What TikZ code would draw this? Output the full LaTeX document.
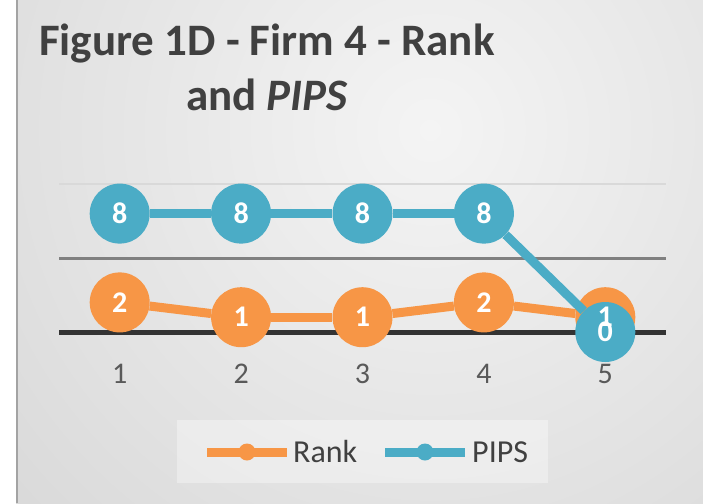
\documentclass[tikz,border=0pt]{standalone}
\usepackage{fontspec}
\setmainfont{Carlito}
\usepackage{tikz}
\usetikzlibrary{positioning}
\definecolor{rankor}{HTML}{F79646}
\definecolor{pipsbl}{HTML}{4BACC6}
\definecolor{titlegr}{HTML}{404040}
\definecolor{axisgr}{HTML}{595959}
\definecolor{bgin}{HTML}{F4F4F4}
\definecolor{bgout}{HTML}{C0C0C0}
\tikzstyle{rankdot} = [circle, fill=rankor, minimum size=60pt, inner sep=0pt]
\tikzstyle{pipsdot} = [circle, fill=pipsbl, minimum size=60pt, inner sep=0pt]
\tikzstyle{rankline} = [draw=rankor, line width=9pt]
\tikzstyle{pipsline} = [draw=pipsbl, line width=9pt]
\tikzstyle{dotlab} = [text=white, inner sep=0pt, font=\bfseries\fontsize{30}{30}\selectfont]
\tikzstyle{ticklab} = [text=axisgr, inner sep=0pt, font=\fontsize{30}{30}\selectfont]
\tikzstyle{titlelab} = [text=titlegr, inner sep=0pt, font=\bfseries\fontsize{45}{54}\selectfont]
\tikzstyle{legendlab} = [text=titlegr, inner sep=0pt, font=\fontsize{32}{32}\selectfont]

\begin{document}
\begin{tikzpicture}[x=1pt, y=-1pt]
\useasboundingbox (0,0) rectangle (703,503);
\fill[white] (0,0) rectangle (703,503);
\begin{scope}
\clip (16,0) rectangle (703,503);
\shade[inner color=bgin, outer color=bgout] (430,130) circle (1100pt);
\end{scope}
\draw[bgout!85!black, line width=2pt] (17,0) -- (17,503);

\node[titlelab, anchor=base] (title) at (267,56) {Figure 1D - Firm 4 - Rank};
\node[titlelab, anchor=base] (subtitle) at (267,110) {and \textit{PIPS}};

\draw[black!15, line width=2pt] (59,184) -- (666,184);
\draw[black!50, line width=3pt] (59,258) -- (666,258);
\draw[black!80, line width=5pt] (59,332) -- (666,332);

\foreach \i/\v in {1/2,2/1,3/1,4/2,5/1}
    \node[rankdot] (r\i) at ({59+121.4*(\i-0.5)}, {332-14.8*\v}) {};
\draw[rankline] (r1) -- (r2);
\draw[rankline] (r2) -- (r3);
\draw[rankline] (r3) -- (r4);
\draw[rankline] (r4) -- (r5);

\foreach \i/\v in {1/8,2/8,3/8,4/8,5/0}
    \node[pipsdot] (p\i) at ({59+121.4*(\i-0.5)}, {332-14.8*\v}) {};
\draw[pipsline] (p1) -- (p2);
\draw[pipsline] (p2) -- (p3);
\draw[pipsline] (p3) -- (p4);
\draw[pipsline] (p4) -- (p5);

\foreach \i/\v in {1/2,2/1,3/1,4/2,5/1}
    \node[dotlab] (rl\i) at (r\i) {\v};
\foreach \i/\v in {1/8,2/8,3/8,4/8,5/0}
    \node[dotlab] (pl\i) at (p\i) {\v};

\foreach \i in {1,...,5}
    \node[ticklab] (t\i) at ({59+121.4*(\i-0.5)}, 374) {\i};

\node[fill=white, fill opacity=0.35, minimum width=371pt, minimum height=63pt, inner sep=0pt] (legend) at (362.5,451.5) {};
\coordinate (ra) at (207,452);
\coordinate (rb) at (287,452);
\draw[rankline] (ra) -- (rb);
\node[circle, fill=rankor, minimum size=17pt, inner sep=0pt] (rm) at (247,452) {};
\node[legendlab, anchor=base west] (rtext) at (293,462) {Rank};
\coordinate (pa) at (385,452);
\coordinate (pb) at (465,452);
\draw[pipsline] (pa) -- (pb);
\node[circle, fill=pipsbl, minimum size=17pt, inner sep=0pt] (pm) at (425,452) {};
\node[legendlab, anchor=base west] (ptext) at (472,462) {PIPS};
\end{tikzpicture}
\end{document}
